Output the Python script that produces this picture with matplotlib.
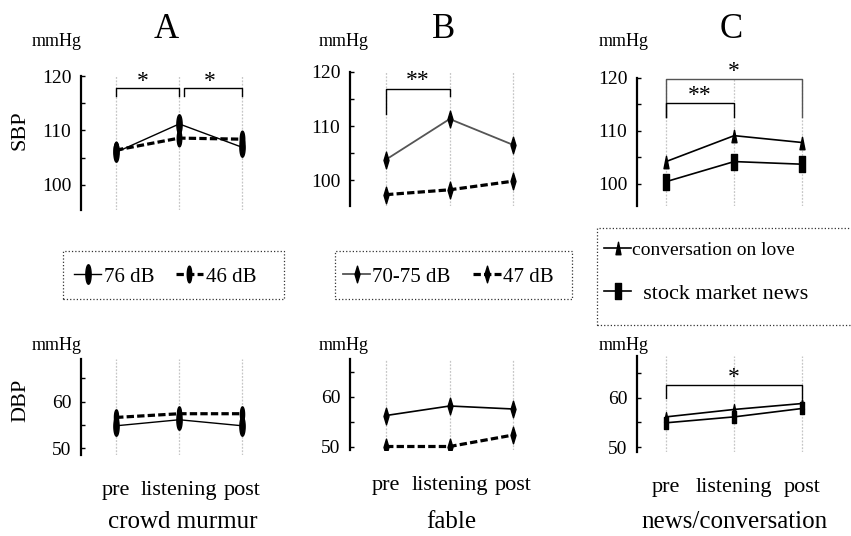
import matplotlib
matplotlib.use('Agg')
import matplotlib.pyplot as plt
from matplotlib.path import Path
from matplotlib.patches import Rectangle
import numpy as np

plt.rcParams['font.family'] = ['Liberation Serif', 'DejaVu Serif']

# ---------------- data ----------------
stages = ['pre', 'listening', 'post']
panel_letters = ['A', 'B', 'C']
panel_titles = ['crowd murmur', 'fable', 'news/conversation']

sbp_murmur_76 = [106.0, 111.2, 106.9]
sbp_murmur_46 = [106.4, 108.6, 108.4]
dbp_murmur_76 = [54.8, 56.1, 54.8]
dbp_murmur_46 = [56.6, 57.4, 57.4]

sbp_fable_loud = [103.8, 111.3, 106.5]
sbp_fable_quiet = [97.3, 98.2, 99.8]
dbp_fable_loud = [56.2, 58.1, 57.5]
dbp_fable_quiet = [50.0, 50.0, 52.3]

sbp_love = [104.2, 109.1, 107.8]
sbp_stock = [100.4, 104.2, 103.7]
dbp_love = [56.1, 57.6, 58.8]
dbp_stock = [54.9, 56.1, 57.8]

labels_murmur = ['76 dB', '46 dB']
labels_fable = ['70-75 dB', '47 dB']
labels_news = ['conversation on love', '  stock market news']

W, H = 851, 536
fig = plt.figure(figsize=(W / 100, H / 100), dpi=100)


def px_axes(x0, y0, x1, y1):
    return fig.add_axes([x0 / W, 1 - y1 / H, (x1 - x0) / W, (y1 - y0) / H])


# custom markers
t = np.linspace(0, 2 * np.pi, 60)
ellipse = Path(np.column_stack([0.27 * np.cos(t), np.sin(t)]), closed=True)
thin_diamond = Path([(0, 1), (0.3, 0), (0, -1), (-0.3, 0), (0, 1)], closed=True)
thin_triangle = Path([(-0.4, -1), (0.4, -1), (0, 1), (-0.4, -1)], closed=True)
thin_rect = Path([(-0.32, -1), (0.32, -1), (0.32, 1), (-0.32, 1), (-0.32, -1)], closed=True)

DASH = (0, (2.3, 1.0))


def setup(ax, left, ylim, major, minor, bottom):
    ax.set_xlim(left, 2.2)
    ax.set_ylim(*ylim)
    for s in ['top', 'right', 'bottom']:
        ax.spines[s].set_visible(False)
    ax.spines['left'].set_linewidth(1.6)
    ax.set_yticks(major)
    ax.set_yticks(minor, minor=True)
    ax.tick_params(axis='y', which='both', direction='in', length=3, width=1,
                   labelsize=14, pad=7)
    ax.set_xticks(range(3))
    if bottom:
        ax.set_xticklabels(stages, fontsize=16)
    else:
        ax.set_xticklabels([])
    ax.tick_params(axis='x', length=0, pad=19)
    for i in range(3):
        ax.axvline(i, color='#c6c6c6', lw=0.9, ls=(0, (1.5, 1.2)), zorder=0)
    ax.patch.set_alpha(0)


def bracket(ax, x0, x1, y, ya, yb, txt, tx, ty, color='black'):
    ax.plot([x0, x0, x1, x1], [ya, y, y, yb], color=color, lw=1.0, clip_on=False)
    ax.text(tx, ty, txt, ha='center', va='center', fontsize=17, clip_on=False)


x = np.arange(3)

# ---------- Panel A ----------
axA1 = px_axes(81, 76, 255, 210)
setup(axA1, -0.556, (95.4, 120), [100, 110, 120], [105, 115], False)
lA1, = axA1.plot(x, sbp_murmur_76, color='black', lw=1.0, marker=ellipse, ms=14, zorder=3)
lA2, = axA1.plot(x, sbp_murmur_46, color='black', lw=2.3, ls=DASH, marker=ellipse, ms=12, zorder=3)
bracket(axA1, 0, 1, 117.8, 116.4, 116.4, '*', 0.42, 119.0)
bracket(axA1, 1.07, 2, 117.8, 116.4, 116.4, '*', 1.48, 119.0)

axA2 = px_axes(81, 359, 255, 455)
setup(axA2, -0.556, (48.5, 69.2), [50, 60], [55, 65], True)
axA2.plot(x, dbp_murmur_76, color='black', lw=1.0, marker=ellipse, ms=14, zorder=3)
axA2.plot(x, dbp_murmur_46, color='black', lw=2.3, ls=DASH, marker=ellipse, ms=11, zorder=3)

# ---------- Panel B ----------
axB1 = px_axes(350, 72, 526, 206)
setup(axB1, -0.567, (95.2, 120), [100, 110, 120], [105, 115], False)
lB1, = axB1.plot(x, sbp_fable_loud, color='#555555', lw=1.3, marker=thin_diamond, ms=12,
                 mfc='black', mec='black', zorder=3)
lB2, = axB1.plot(x, sbp_fable_quiet, color='black', lw=2.3, ls=DASH, marker=thin_diamond,
                 ms=12, zorder=3)
bracket(axB1, 0, 1, 116.9, 112.3, 115.5, '**', 0.5, 118.4)

axB2 = px_axes(350, 359, 526, 450)
setup(axB2, -0.567, (49.3, 67.5), [50, 60], [55, 65], True)
axB2.plot(x, dbp_fable_loud, color='black', lw=1.2, marker=thin_diamond, ms=12, zorder=3)
axB2.plot(x, dbp_fable_quiet, color='black', lw=2.3, ls=DASH, marker=thin_diamond, ms=12, zorder=3)

# ---------- Panel C ----------
axC1 = px_axes(637, 78, 816, 206)
setup(axC1, -0.426, (95.8, 120), [100, 110, 120], [105, 115], False)
lC1, = axC1.plot(x, sbp_love, color='black', lw=1.2, marker=thin_triangle, ms=9, zorder=3)
lC2, = axC1.plot(x, sbp_stock, color='black', lw=1.2, marker=thin_rect, ms=12, zorder=3)
bracket(axC1, 0, 2, 119.9, 112.7, 112.7, '*', 1.0, 121.3, color='#555555')
bracket(axC1, 0, 1, 115.2, 112.7, 112.7, '**', 0.5, 116.6)

axC2 = px_axes(637, 356, 816, 452)
setup(axC2, -0.426, (49, 68.4), [50, 60], [55, 65], True)
axC2.plot(x, dbp_love, color='black', lw=1.2, marker=thin_triangle, ms=7, zorder=3)
axC2.plot(x, dbp_stock, color='black', lw=1.2, marker=thin_rect, ms=8, zorder=3)
bracket(axC2, 0, 2, 62.6, 60, 60, '*', 1.0, 64.0)

# ---------- texts ----------
def ftext(px, py, s, **kw):
    fig.text(px / W, 1 - py / H, s, ha='center', va='center', **kw)

for cx, letter in zip([166, 444, 731], panel_letters):
    ftext(cx, 30, letter, fontsize=25)
for cx in [57, 344, 624]:
    ftext(cx, 41, 'mmHg', fontsize=13)
    ftext(cx, 346, 'mmHg', fontsize=13)
for cx, title in zip([183, 451, 734], panel_titles):
    ftext(cx, 522, title, fontsize=18)
ftext(20, 130, 'SBP', fontsize=16, rotation=90)
ftext(21, 400, 'DBP', fontsize=16, rotation=90)

# ---------- legends ----------
def box(x0, y0, x1, y1):
    fig.patches.append(Rectangle((x0 / W, 1 - y1 / H), (x1 - x0) / W, (y1 - y0) / H,
                                 transform=fig.transFigure, fill=False, ls=':',
                                 lw=0.9, ec='#333333'))

box(63, 251, 284, 299)
box(335, 251, 572, 299)
box(597, 228, 860, 325)

legA = fig.legend([lA1, lA2], labels_murmur, loc='center left',
                  bbox_to_anchor=(74 / W, 1 - 277 / H), ncol=2, frameon=False,
                  fontsize=15, handlelength=1.3, handletextpad=0.15, columnspacing=1.0,
                  borderpad=0, borderaxespad=0)
legB = fig.legend([lB1, lB2], labels_fable, loc='center left',
                  bbox_to_anchor=(343 / W, 1 - 277 / H), ncol=2, frameon=False,
                  fontsize=15, handlelength=1.3, handletextpad=0.1, columnspacing=1.1,
                  borderpad=0, borderaxespad=0)
legC = fig.legend([lC1, lC2], labels_news, loc='center left',
                  bbox_to_anchor=(604 / W, 1 - 272 / H), ncol=1, frameon=False,
                  fontsize=15, handlelength=1.3, handletextpad=0.05, labelspacing=1.2,
                  borderpad=0, borderaxespad=0)
legC.get_texts()[0].set_fontsize(14)
legC.get_texts()[1].set_fontsize(16)

fig.savefig('out.png', dpi=100)
